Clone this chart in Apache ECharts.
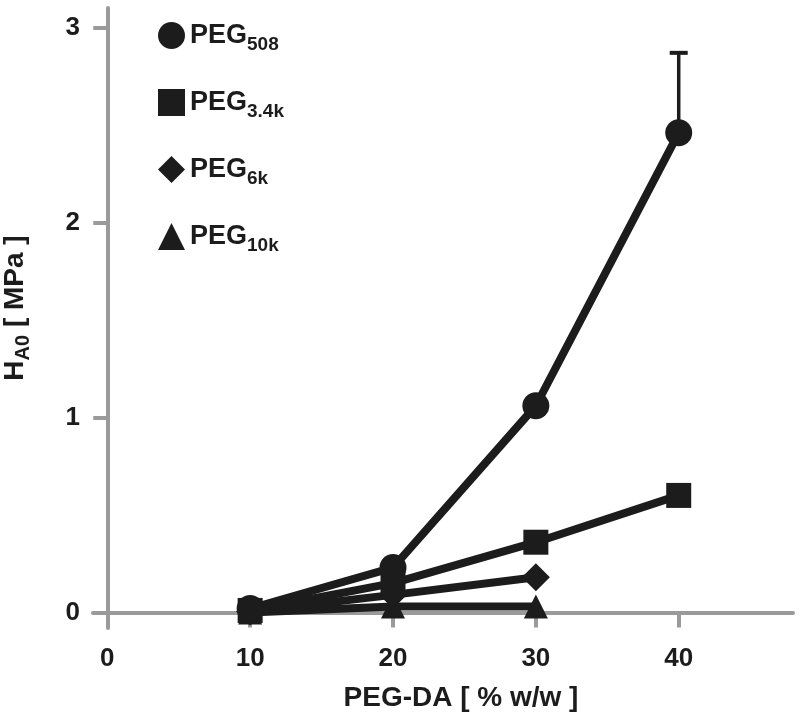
<!DOCTYPE html>
<html>
<head>
<meta charset="utf-8">
<script src="https://cdn.jsdelivr.net/npm/echarts@6/dist/echarts.min.js"></script>
<style>html,body{margin:0;padding:0;background:#fff}#c{width:800px;height:720px}</style>
</head>
<body>
<div id="c"></div>
<script>
const xValues = [10, 20, 30, 40];
const peg508 = [0.02, 0.23, 1.06, 2.46];
const peg34k = [0.01, 0.15, 0.36, 0.60];
const peg6k = [0.005, 0.09, 0.18];
const peg10k = [0.0, 0.03, 0.03];
const errX = [40];
const errUpper = [2.87];
const errMean = [2.46];
const xTicks = [0, 10, 20, 30, 40];
const yTicks = [0, 1, 2, 3];
const legendNames = ['PEG508', 'PEG3.4k', 'PEG6k', 'PEG10k'];
const legendSubs = {'PEG508': '508', 'PEG3.4k': '3.4k', 'PEG6k': '6k', 'PEG10k': '10k'};
const legendIcons = {'PEG508': 'circle', 'PEG3.4k': 'rect', 'PEG6k': 'diamond', 'PEG10k': 'triangle'};

const ink = '#1c1c1c';
const axisGray = '#9a9a9a';
const font = 'Liberation Sans, Arial, sans-serif';

function pairs(xs, ys) { return ys.map((y, i) => [xs[i], y]); }

const chart = echarts.init(document.getElementById('c'));
function lineSeries(name, data, symbol, size) {
  return {
    name, type: 'line', data: pairs(xValues, data),
    symbol, symbolSize: size, showSymbol: true,
    lineStyle: { color: ink, width: 8 },
    itemStyle: { color: ink },
    z: 3, animation: false
  };
}
chart.setOption({
  animation: false,
  grid: { left: 93, right: 7, top: 8, bottom: 92, outerBoundsMode: 'none', containLabel: false },
  legend: {
    orient: 'vertical', left: 153, top: 17, itemGap: 35,
    itemWidth: 27, itemHeight: 27,
    data: legendNames.map(n => ({ name: n, icon: legendIcons[n] })),
    formatter: n => '{a|PEG}{b|' + legendSubs[n] + '}',
    textStyle: {
      rich: {
        a: { fontFamily: font, fontWeight: 'bold', fontSize: 27, color: ink },
        b: { fontFamily: font, fontWeight: 'bold', fontSize: 19, color: ink, padding: [18, 0, 0, 0] }
      }
    }
  },
  xAxis: {
    type: 'value', min: -1, max: 48,
    axisLine: { onZero: true, lineStyle: { color: axisGray, width: 4 } },
    axisTick: { customValues: xTicks, length: 15, lineStyle: { color: axisGray, width: 4 } },
    axisLabel: { customValues: xTicks, margin: 18, fontFamily: font, fontWeight: 'bold', fontSize: 26, color: ink },
    splitLine: { show: false },
    name: 'PEG-DA [ % w/w ]', nameLocation: 'middle', nameGap: 56, nameMoveOverlap: false,
    nameTextStyle: { fontFamily: font, fontWeight: 'bold', fontSize: 28, color: ink, padding: [0, 0, 0, 36] }
  },
  yAxis: {
    type: 'value', min: -0.08, max: 3.1,
    axisLine: { onZero: true, lineStyle: { color: axisGray, width: 4 } },
    axisTick: { customValues: yTicks, length: 14, lineStyle: { color: axisGray, width: 4 } },
    axisLabel: { customValues: yTicks, margin: 13, fontFamily: font, fontWeight: 'bold', fontSize: 26, color: ink },
    splitLine: { show: false },
    name: '{a|H}{b|A0}{a| [ MPa ]}', nameLocation: 'middle', nameGap: 60, nameMoveOverlap: false,
    nameTextStyle: {
      padding: [0, 0, 0, 20],
      rich: {
        a: { fontFamily: font, fontWeight: 'bold', fontSize: 28, color: ink },
        b: { fontFamily: font, fontWeight: 'bold', fontSize: 20, color: ink, padding: [15, 0, 0, 0] }
      }
    }
  },
  series: [
    {
      name: 'err', type: 'custom', z: 2, animation: false,
      data: errX.map((x, i) => [x, errMean[i], errUpper[i]]),
      renderItem: (params, api) => {
        const p0 = api.coord([api.value(0), api.value(1)]);
        const p1 = api.coord([api.value(0), api.value(2)]);
        const w = 9;
        return { type: 'group', children: [
          { type: 'line', shape: { x1: p0[0], y1: p0[1], x2: p1[0], y2: p1[1] }, style: { stroke: ink, lineWidth: 3.5 } },
          { type: 'line', shape: { x1: p1[0] - w, y1: p1[1], x2: p1[0] + w, y2: p1[1] }, style: { stroke: ink, lineWidth: 4 } }
        ]};
      }
    },
    lineSeries('PEG10k', peg10k, 'triangle', 24),
    lineSeries('PEG6k', peg6k, 'diamond', 28),
    lineSeries('PEG3.4k', peg34k, 'rect', 25),
    lineSeries('PEG508', peg508, 'circle', 27)
  ]
});
</script>
</body>
</html>
